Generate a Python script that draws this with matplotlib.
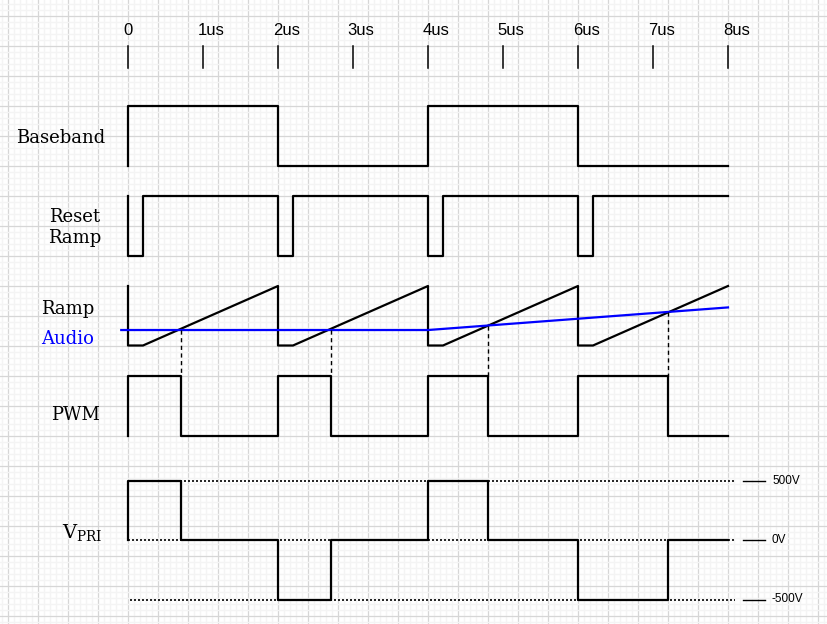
"""
Timing diagram: baseband, reset ramp, ramp vs audio, PWM and primary voltage
"""
import numpy as np
from matplotlib import pyplot as plt
from matplotlib.ticker import MultipleLocator

# time axis labels (us)
tickTimes = [0, 1, 2, 3, 4, 5, 6, 7, 8]
tickLabels = ['0', '1us', '2us', '3us', '4us', '5us', '6us', '7us', '8us']

# logic traces as (time in us, level 0/1) corner points
basebandT = [0, 0, 2, 2, 4, 4, 6, 6, 8]
basebandL = [0, 1, 1, 0, 0, 1, 1, 0, 0]

resetT = [0, 0, 0.2, 0.2, 2, 2, 2.2, 2.2, 4, 4, 4.2, 4.2, 6, 6, 6.2, 6.2, 8]
resetL = [1, 0, 0, 1, 1, 0, 0, 1, 1, 0, 0, 1, 1, 0, 0, 1, 1]

rampT = [0, 0, 0.2, 2, 2, 2.2, 4, 4, 4.2, 6, 6, 6.2, 8]
rampL = [1, 0, 0, 1, 0, 0, 1, 0, 0, 1, 0, 0, 1]

# audio signal, same scale as the ramp
audioT = [-0.09, 4, 8]
audioL = [0.26, 0.26, 0.64]

# comparator crossing times (us)
crossT = [0.7, 2.7, 4.8, 7.2]

pwmT = [0, 0, 0.7, 0.7, 2, 2, 2.7, 2.7, 4, 4, 4.8, 4.8, 6, 6, 7.2, 7.2, 8]
pwmL = [0, 1, 1, 0, 0, 1, 1, 0, 0, 1, 1, 0, 0, 1, 1, 0, 0]

# primary voltage (V)
vpriT = [0, 0, 0.7, 0.7, 2, 2, 2.7, 2.7, 4, 4, 4.8, 4.8, 6, 6, 7.2, 7.2, 8]
vpriV = [0, 500, 500, 0, 0, -500, -500, 0, 0, 500, 500, 0, 0, -500, -500, 0, 0]
vLevels = [500, 0, -500]
vLabels = ['500V', '0V', '-500V']

# layout in pixels: x = 128 + 75*t, rows measured from the top
W, H = 827, 624
x0, pxPerUs = 128, 75
rowH = 59.5
baseTop, resetTop, rampTop, pwmTop = 106, 196, 286, 376
vZero = 540


def px(x):
    return (x - x0) / pxPerUs


def row(levels, top):
    return top + rowH * (1 - np.asarray(levels, dtype=float))


fig = plt.figure(figsize=(W / 100, H / 100), dpi=100)
ax = fig.add_axes([0, 0, 1, 1])
ax.set_xlim(px(0), px(W))
ax.set_ylim(H, 0)

# graph paper background
ax.xaxis.set_major_locator(MultipleLocator(30 / pxPerUs))
ax.xaxis.set_minor_locator(MultipleLocator(6 / pxPerUs))
ax.yaxis.set_major_locator(MultipleLocator(30, offset=16))
ax.yaxis.set_minor_locator(MultipleLocator(6, offset=4))
ax.grid(which='minor', color='#f4f4f4', linewidth=1.0)
ax.grid(which='major', color='#d6d6d6', linewidth=0.9)
ax.set_axisbelow(True)
ax.tick_params(which='both', length=0, labelbottom=False, labelleft=False)
for s in ax.spines.values():
    s.set_visible(False)

lw = 1.6
sans = 'Liberation Sans'
serif = 'DejaVu Serif'

# time scale
for t, lab in zip(tickTimes, tickLabels):
    ax.plot([t, t], [46, 68], color='black', lw=1.1)
    off = 0 if t == 0 else 0.11
    ax.text(t + off, 35, lab, ha='center', va='baseline', fontsize=12, family=sans)

# traces
ax.plot(basebandT, row(basebandL, baseTop), color='black', lw=lw)
ax.plot(resetT, row(resetL, resetTop), color='black', lw=lw)
ax.plot(rampT, row(rampL, rampTop), color='black', lw=lw)
ax.plot(audioT, row(audioL, rampTop), color='#0000ff', lw=lw)
ax.plot(pwmT, row(pwmL, pwmTop), color='black', lw=lw)

# crossing markers from audio level down to PWM edge
for t in crossT:
    yc = row([np.interp(t, audioT, audioL)], rampTop)[0]
    ax.plot([t, t], [yc, pwmTop], color='black', lw=1.0, linestyle=(0, (3, 2.5)))

# VPRI reference levels
vScale = rowH / 500
for v, lab in zip(vLevels, vLabels):
    y = vZero - v * vScale
    start = px(130) if v < 0 else 0
    ax.plot([start, px(735)], [y, y], color='black', lw=1.2, linestyle=(0, (1.2, 1.2)))
    ax.plot([px(743), px(765)], [y, y], color='black', lw=1.0)
    ax.text(px(772), y, lab, ha='left', va='center', fontsize=8.5, family=sans)

ax.plot(vpriT, vZero - np.asarray(vpriV) * vScale, color='black', lw=lw)

# row labels
ax.text(px(16), 143, 'Baseband', ha='left', va='baseline', fontsize=13, family=serif)
ax.text(px(75), 222, 'Reset', ha='center', va='baseline', fontsize=13, family=serif)
ax.text(px(75), 243, 'Ramp', ha='center', va='baseline', fontsize=13, family=serif)
ax.text(px(41), 314, 'Ramp', ha='left', va='baseline', fontsize=13, family=serif)
ax.text(px(41), 344, 'Audio', ha='left', va='baseline', fontsize=13, family=serif, color='#0000ff')
ax.text(px(51), 420, 'PWM', ha='left', va='baseline', fontsize=13, family=serif)
ax.text(px(62), 538, r'$\mathregular{V_{PRI}}$', ha='left', va='baseline', fontsize=14, family=serif)

fig.savefig('out.png', dpi=100)
